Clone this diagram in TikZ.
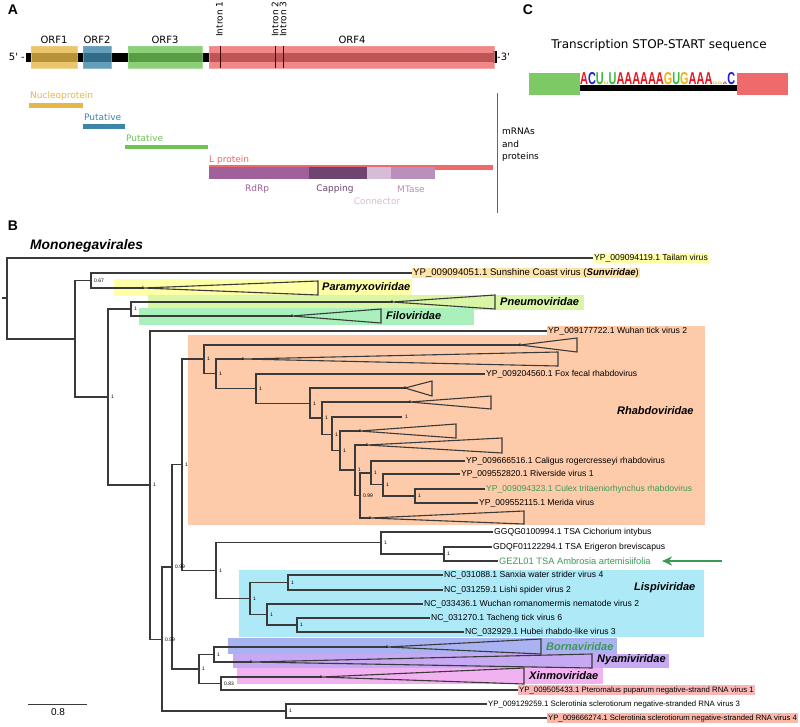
\documentclass[tikz,border=0pt]{standalone}
\usepackage{fontspec}
\setmainfont{Liberation Sans}
\newfontfamily\dv{DejaVu Sans}
\usetikzlibrary{arrows.meta}
\definecolor{orfA}{HTML}{E6B748}
\definecolor{orfB}{HTML}{3D86AA}
\definecolor{orfC}{HTML}{6EC355}
\definecolor{orfD}{HTML}{EF6A6A}
\definecolor{rdrp}{HTML}{A0609A}
\definecolor{capp}{HTML}{6E4470}
\definecolor{conn}{HTML}{D6BCD6}
\definecolor{mtas}{HTML}{B98FBB}
\definecolor{brc}{HTML}{3A3A3A}
\definecolor{bgPara}{HTML}{FFFFA8}
\definecolor{bgPneu}{HTML}{D8F6A6}
\definecolor{bgFilo}{HTML}{A9F0BC}
\definecolor{bgRhab}{HTML}{FDCBAA}
\definecolor{bgLisp}{HTML}{AEE9F8}
\definecolor{bgBorn}{HTML}{A9B3F2}
\definecolor{bgNyam}{HTML}{C7A8F2}
\definecolor{bgXinm}{HTML}{F2B2F2}
\definecolor{bgTail}{HTML}{FFFFAA}
\definecolor{bgSuns}{HTML}{FFE4AA}
\definecolor{bgPter}{HTML}{F9B6B6}
\definecolor{bgScl}{HTML}{F9B8A8}
\definecolor{grn}{HTML}{3A9A55}
\definecolor{lA}{HTML}{E8141E}
\definecolor{lC}{HTML}{2020D8}
\definecolor{lU}{HTML}{3CB83C}
\definecolor{lG}{HTML}{F2B21A}
\newcommand\mytri[4]{\draw[br] (#1) -- (#2,#3) -- (#2,#4) -- cycle;}
\newcommand\suplab[2]{\node[nl] (s-#1) at ([xshift=3pt]#1) {#2};}
\begin{document}
\begin{tikzpicture}[x=1pt,y=-1pt,
  br/.style={draw=brc,line width=1.1pt},
  lab/.style={anchor=west,inner sep=1pt,font=\fontsize{8.6}{9}\selectfont},
  labs/.style={anchor=west,inner sep=1pt,font=\fontsize{7.8}{9}\selectfont},
  nl/.style={anchor=west,inner sep=0pt,font=\fontsize{5}{5}\selectfont},
  tk/.style={inner sep=0pt,font=\fontsize{4.5}{4.5}\selectfont},
  fam/.style={anchor=west,inner sep=1pt,font=\fontsize{11}{12}\selectfont\bfseries\itshape},
  pl/.style={font=\fontsize{14}{14}\selectfont\bfseries},
  dvs/.style={inner sep=0pt,font=\dv\fontsize{9}{10}\selectfont},
  orf/.style={inner sep=0pt,anchor=base,font=\dv\fontsize{10}{10}\selectfont},
]
\useasboundingbox (0,0) rectangle (800,726);
\fill[white] (0,0) rectangle (800,726);

% ---------------- Panel A ----------------
\node[pl] (pA) at (13,10) {A};
\fill[black] (26,52.5) rectangle (497,61.5);
\fill[black] (493,51) rectangle (497,63);
\filldraw[fill=orfA,draw=orfA!70!white,fill opacity=0.8,draw opacity=0.8] (31,46) rectangle (77,68);
\filldraw[fill=orfB,draw=orfB!70!white,fill opacity=0.8,draw opacity=0.8] (83,46) rectangle (111,68);
\filldraw[fill=orfC,draw=orfC!70!white,fill opacity=0.8,draw opacity=0.8] (128,46) rectangle (202,68);
\filldraw[fill=orfD,draw=orfD!70!white,fill opacity=0.8,draw opacity=0.8] (209,46) rectangle (494,68);
\draw[line width=0.7pt,black!75!red] (220,46) -- (220,68) (275,46) -- (275,68) (283,46) -- (283,68);
\node[orf] (o1) at (54,43) {ORF1};
\node[orf] (o2) at (97,43) {ORF2};
\node[orf] (o3) at (165,43) {ORF3};
\node[orf] (o4) at (352,43) {ORF4};
\node[dvs,rotate=90,anchor=west] (i1) at (219.5,37) {Intron 1};
\node[dvs,rotate=90,anchor=west] (i2) at (275,37) {Intron 2};
\node[dvs,rotate=90,anchor=west] (i3) at (283,37) {Intron 3};
\node[dvs,anchor=east,font=\dv\fontsize{10}{10}\selectfont] (p5) at (25,57) {5' -};
\node[dvs,anchor=west,font=\dv\fontsize{10}{10}\selectfont] (p3) at (497,57) {-3'};

\node[dvs,anchor=base west,text=orfA] (tN) at (30,98) {Nucleoprotein};
\fill[orfA] (29,103) rectangle (83,107.5);
\node[dvs,anchor=base west,text=orfB] (tP1) at (84,120) {Putative};
\fill[orfB] (83,124) rectangle (125,128.5);
\node[dvs,anchor=base west,text=orfC] (tP2) at (126,141) {Putative};
\fill[orfC] (125,144.5) rectangle (208,149);
\node[dvs,anchor=base west,text=orfD] (tL) at (209,162) {L protein};
\fill[orfD] (209,165) rectangle (493,170);
\fill[rdrp] (209,167) rectangle (309,179);
\fill[capp] (309,167) rectangle (367,179);
\fill[conn] (367,167) rectangle (391,179);
\fill[mtas] (391,167) rectangle (435,179);
\node[dvs,text=rdrp] (tR) at (257,189) {RdRp};
\node[dvs,text=capp] (tCp) at (335,189) {Capping};
\node[dvs,text=mtas] (tM) at (411,189) {MTase};
\node[dvs,text=conn] (tCn) at (377,201) {Connector};
\draw[line width=0.8pt,black!60] (497,93) -- (497,213);
\node[dvs,anchor=west,align=left,font=\dv\fontsize{9}{12.5}\selectfont] (mr) at (502,145) {mRNAs\\and\\proteins};

% ---------------- Panel C ----------------
\node[pl] (pC) at (528,10) {C};
\node[inner sep=0pt,font=\dv\fontsize{12}{12}\selectfont] (tt) at (659,45) {Transcription STOP-START sequence};
\fill[orfC!90!white] (529,73) rectangle (580,95);
\fill[orfD] (737,73) rectangle (788,95);
\fill[black] (580,85) rectangle (737,91);
\node[anchor=south west,inner sep=0pt] (seq) at (580,85) {\resizebox{155pt}{12pt}{\bfseries
 \color{lA}A\color{lC}C\color{lU}U\scalebox{0.6}[0.2]{\color{lG}U}\color{lU}U\color{lA}AAAAAA\color{lG}G\color{lU}U\color{lG}G\color{lA}AAA\scalebox{0.6}[0.2]{\color{lG}G}\scalebox{0.6}[0.2]{\color{lG}G}\scalebox{0.6}[0.2]{\color{lA}A}\color{lC}C}};

% ---------------- Panel B ----------------
\node[pl] (pB) at (13,226) {B};
\node[anchor=west,inner sep=0pt,font=\fontsize{13.8}{14}\selectfont\bfseries\itshape] (mono) at (30,246) {Mononegavirales};

% backgrounds
\fill[bgPara] (114,279) rectangle (412,296);
\fill[bgPneu] (148,295) rectangle (584,310);
\fill[bgFilo] (139,308) rectangle (474,325);
\fill[bgRhab] (188,335) rectangle (705,525);
\fill[bgRhab] (547,326) rectangle (705,337);
\fill[bgLisp] (239,570) rectangle (704,637);
\fill[bgBorn] (228,638) rectangle (617,654);
\fill[bgNyam] (233,654) rectangle (669,668);
\fill[bgXinm] (237,668) rectangle (603,684);

% leaf labels
\node[lab,fill=bgTail] (tailam) at (593,258) {YP\_009094119.1 Tailam virus};
\node[lab,fill=bgSuns,font=\fontsize{9.6}{10}\selectfont] (suns) at (412,273) {YP\_009094051.1 Sunshine Coast virus (\textbf{\textit{Sunviridae}})};
\node[lab] (wuhan) at (547,331) {YP\_009177722.1 Wuhan tick virus 2};
\node[lab] (fox) at (485,374) {YP\_009204560.1 Fox fecal rhabdovirus};
\node[lab] (cali) at (465,461) {YP\_009666516.1 Caligus rogercresseyi rhabdovirus};
\node[lab] (rive) at (460,474) {YP\_009552820.1 Riverside virus 1};
\node[lab,text=grn] (culex) at (485,489) {YP\_009094323.1 Culex tritaeniorhynchus rhabdovirus};
\node[lab] (meri) at (478,503) {YP\_009552115.1 Merida virus};
\node[lab] (cich) at (493,532) {GGQG0100994.1 TSA Cichorium intybus};
\node[lab] (erig) at (492,547) {GDQF01122294.1 TSA Erigeron breviscapus};
\node[lab,text=grn,font=\fontsize{9.3}{10}\selectfont] (ambr) at (498,561) {GEZL01 TSA Ambrosia artemisiifolia};
\node[lab] (sanx) at (443,575) {NC\_031088.1 Sanxia water strider virus 4};
\node[lab] (lish) at (443,590) {NC\_031259.1 Lishi spider virus 2};
\node[lab] (wuch) at (423,604) {NC\_033436.1 Wuchan romanomermis nematode virus 2};
\node[lab] (tach) at (430,618) {NC\_031270.1 Tacheng tick virus 6};
\node[lab] (hube) at (464,632) {NC\_032929.1 Hubei rhabdo-like virus 3};
\node[labs,fill=bgPter] (pter) at (518,690) {YP\_009505433.1 Pteromalus puparum negative-strand RNA virus 1};
\node[labs] (scl3) at (487,704) {YP\_009129259.1 Sclerotinia sclerotiorum negative-stranded RNA virus 3};
\node[labs,fill=bgScl,font=\fontsize{7.7}{9}\selectfont] (scl4) at (547,718) {YP\_009666274.1 Sclerotinia sclerotiorum negative-stranded RNA virus 4};

% family labels
\node[fam] (fPara) at (321,288) {Paramyxoviridae};
\node[fam] (fPneu) at (499,302) {Pneumoviridae};
\node[fam] (fFilo) at (385,316) {Filoviridae};
\node[fam] (fRhab) at (616,411) {Rhabdoviridae};
\node[fam] (fLisp) at (633,588) {Lispiviridae};
\node[fam,text=grn] (fBorn) at (545,647) {Bornaviridae};
\node[fam] (fNyam) at (596,660) {Nyamiviridae};
\node[fam] (fXinm) at (528,676) {Xinmoviridae};

% tree coordinates
\coordinate (stub) at (2,298);
\coordinate (r0) at (7,298);
\coordinate (n75) at (75,339);
\coordinate (n91) at (91,280.5);
\coordinate (n108) at (108,397);
\coordinate (n131) at (131,309);
\coordinate (n150) at (150,485);
\coordinate (n162) at (162,639.5);
\coordinate (n172) at (172,567);
\coordinate (n182) at (182,464.5);
\coordinate (n204) at (204,359);
\coordinate (n216) at (216,373.5);
\coordinate (n256) at (256,388.5);
\coordinate (n310) at (310,403.5);
\coordinate (n322) at (322,418);
\coordinate (n332) at (332,434.5);
\coordinate (n340) at (340,450.5);
\coordinate (n355) at (355,470);
\coordinate (n360) at (360,495.5);
\coordinate (n371) at (371,473);
\coordinate (n383) at (383,484.5);
\coordinate (n415) at (415,496);
\coordinate (n216b) at (216,570.5);
\coordinate (n381) at (381,542.5);
\coordinate (n444) at (444,554);
\coordinate (n250) at (250,598.5);
\coordinate (n288) at (288,582.5);
\coordinate (n267) at (267,614.5);
\coordinate (n297) at (297,625);
\coordinate (n199) at (199,669);
\coordinate (n214) at (214,654.5);
\coordinate (n221) at (221,683.5);
\coordinate (nscl) at (286,711);
\coordinate (leafone) at (402,417);
% collapsed clade apexes
\coordinate (aPara) at (143,288);
\coordinate (aPneu) at (392,302);
\coordinate (aFilo) at (292,316);
\coordinate (aT1) at (520,345);
\coordinate (aT2) at (243,359);
\coordinate (aT3) at (405,388);
\coordinate (aT4) at (410,402);
\coordinate (aT5) at (360,431);
\coordinate (aT6) at (367,445);
\coordinate (aT7) at (370,518);
\coordinate (aBorn) at (387,647);
\coordinate (aNyam) at (251,662);
\coordinate (aXinm) at (321,677);

% branches
\draw[br] (stub) -- (r0);
\draw[br] (r0) |- (tailam.west);
\draw[br] (r0) |- (n75);
\draw[br] (n75) |- (n91);
\draw[br] (n75) |- (n108);
\draw[br] (n91) |- (suns.west);
\draw[br] (n91) |- (aPara);
\draw[br] (n108) |- (n131);
\draw[br] (n108) |- (n150);
\draw[br] (n131) |- (aPneu);
\draw[br] (n131) |- (aFilo);
\draw[br] (n150) |- (wuhan.west);
\draw[br] (n150) |- (n162);
\draw[br] (n162) |- (n172);
\draw[br] (n162) |- (nscl);
\draw[br] (n172) |- (n182);
\draw[br] (n172) |- (n199);
\draw[br] (n182) |- (n204);
\draw[br] (n182) |- (n216b);
\draw[br] (n204) |- (aT1);
\draw[br] (n204) |- (n216);
\draw[br] (n216) |- (aT2);
\draw[br] (n216) |- (n256);
\draw[br] (n256) |- (fox.west);
\draw[br] (n256) |- (n310);
\draw[br] (n310) |- (aT3);
\draw[br] (n310) |- (n322);
\draw[br] (n322) |- (aT4);
\draw[br] (n322) |- (n332);
\draw[br] (n332) |- (leafone);
\draw[br] (n332) |- (n340);
\draw[br] (n340) |- (aT5);
\draw[br] (n340) |- (n355);
\draw[br] (n355) |- (aT6);
\draw[br] (n355) |- (n360);
\draw[br] (n360) |- (n371);
\draw[br] (n360) |- (aT7);
\draw[br] (n371) |- (cali.west);
\draw[br] (n371) |- (n383);
\draw[br] (n383) |- (rive.west);
\draw[br] (n383) |- (n415);
\draw[br] (n415) |- (culex.west);
\draw[br] (n415) |- (meri.west);
\draw[br] (n216b) |- (n381);
\draw[br] (n216b) |- (n250);
\draw[br] (n381) |- (cich.west);
\draw[br] (n381) |- (n444);
\draw[br] (n444) |- (erig.west);
\draw[br] (n444) |- (ambr.west);
\draw[br] (n250) |- (n288);
\draw[br] (n250) |- (n267);
\draw[br] (n288) |- (sanx.west);
\draw[br] (n288) |- (lish.west);
\draw[br] (n267) |- (wuch.west);
\draw[br] (n267) |- (n297);
\draw[br] (n297) |- (tach.west);
\draw[br] (n297) |- (hube.west);
\draw[br] (n199) |- (n214);
\draw[br] (n199) |- (n221);
\draw[br] (n214) |- (aBorn);
\draw[br] (n214) |- (aNyam);
\draw[br] (n221) |- (aXinm);
\draw[br] (n221) |- (pter.west);
\draw[br] (nscl) |- (scl3.west);
\draw[br] (nscl) |- (scl4.west);

% collapsed clades
\mytri{aPara}{318}{281}{295}
\mytri{aPneu}{495}{295}{309}
\mytri{aFilo}{381}{309}{323}
\mytri{aT1}{577}{338}{352}
\mytri{aT2}{558}{352}{366}
\mytri{aT3}{432}{381}{396}
\mytri{aT4}{491}{396}{409}
\mytri{aT5}{456}{424}{438}
\mytri{aT6}{502}{438}{453}
\mytri{aT7}{524}{511}{524}
\mytri{aBorn}{541}{639}{654}
\mytri{aNyam}{592}{654}{668}
\mytri{aXinm}{524}{668}{684}
\foreach \a in {aPara,aPneu,aFilo,aT1,aT2,aT3,aT4,aT5,aT6,aT7,aBorn,aNyam,aXinm}{\node[tk] (k-\a) at (\a) {1};}

% support values
\suplab{n91}{0.67}
\suplab{n108}{1}
\suplab{n131}{1}
\suplab{n150}{1}
\suplab{n162}{0.59}
\suplab{n172}{0.99}
\suplab{n182}{1}
\suplab{n204}{1}
\suplab{n216}{1}
\suplab{n256}{1}
\suplab{n310}{1}
\suplab{n322}{1}
\suplab{n332}{1}
\suplab{n340}{1}
\suplab{n355}{1}
\suplab{n360}{0.99}
\suplab{n371}{1}
\suplab{n383}{1}
\suplab{n415}{1}
\suplab{n216b}{1}
\suplab{n381}{1}
\suplab{n444}{1}
\suplab{n250}{1}
\suplab{n288}{1}
\suplab{n267}{1}
\suplab{n297}{1}
\suplab{n199}{1}
\suplab{n214}{1}
\suplab{n221}{0.83}
\suplab{nscl}{1}
\suplab{leafone}{1}

% arrow
\coordinate (atail) at (722,561);
\coordinate (atip) at (662,561);
\draw[grn,line width=1.6pt,-{Stealth[length=10pt,width=9pt]}] (atail) -- (atip);

% scale bar
\coordinate (sb1) at (28,704);
\coordinate (sb2) at (87,704);
\draw[line width=1pt,brc] (sb1) -- (sb2);
\node[inner sep=0pt,font=\fontsize{10}{10}\selectfont] (sbl) at (58,712) {0.8};
\end{tikzpicture}
\end{document}
